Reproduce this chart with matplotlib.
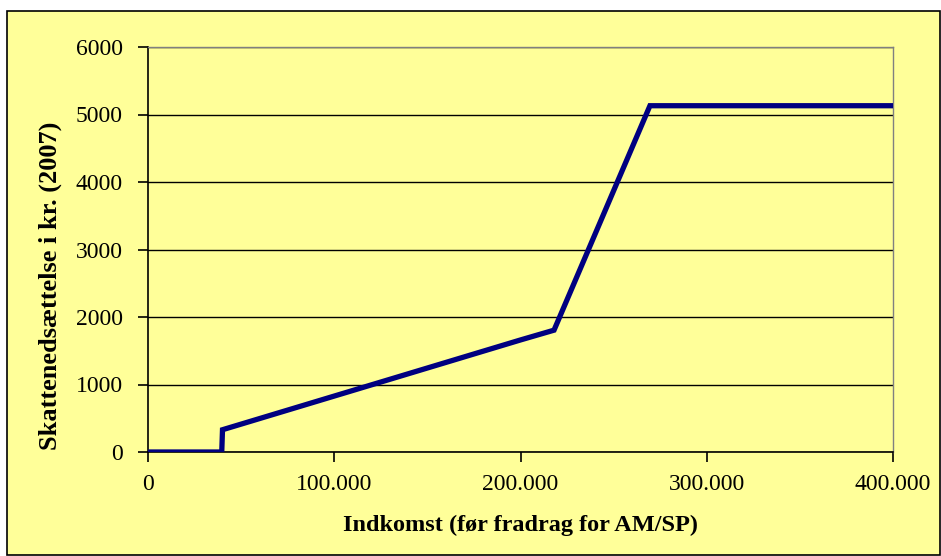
import matplotlib.pyplot as plt
from matplotlib.patches import Rectangle
from matplotlib.ticker import FuncFormatter

# Skattenedsættelse som funktion af indkomst (2007)
indkomst = [0, 39600, 40000, 200000, 218000, 269500, 400000]
nedsaettelse = [0, 0, 330, 1660, 1805, 5130, 5130]

x_ticks = [0, 100000, 200000, 300000, 400000]
y_ticks = [0, 1000, 2000, 3000, 4000, 5000, 6000]

bg = '#FFFF99'
navy = '#000080'

plt.rcParams['font.family'] = ['Liberation Serif', 'DejaVu Serif']

fig = plt.figure(figsize=(9.41, 5.56), dpi=100)
fig.patch.set_facecolor('white')
# gul ramme om hele diagrammet
fig.patches.append(Rectangle((7 / 941, 1 / 556), 933 / 941, 544 / 556,
                             transform=fig.transFigure, facecolor=bg,
                             edgecolor='black', linewidth=1.2, zorder=-5))

ax = fig.add_axes([148 / 941, 1 - 452 / 556, 745 / 941, 405 / 556])
ax.set_zorder(2)
ax.set_facecolor(bg)

ax.plot(indkomst, nedsaettelse, color=navy, linewidth=3.8,
        solid_joinstyle='miter', zorder=3)

ax.set_xlim(0, 400000)
ax.set_ylim(0, 6000)
ax.set_xticks(x_ticks)
ax.set_yticks(y_ticks)
ax.xaxis.set_major_formatter(FuncFormatter(lambda v, p: '0' if v == 0 else f'{int(v):,}'.replace(',', '.')))
ax.yaxis.set_major_formatter(FuncFormatter(lambda v, p: f'{int(v)}'))

ax.grid(True, axis='y', color='black', linewidth=1.0)
ax.set_axisbelow(True)

for side in ['top', 'right']:
    ax.spines[side].set_color('#808080')
    ax.spines[side].set_linewidth(1.0)
for side in ['left', 'bottom']:
    ax.spines[side].set_color('black')
    ax.spines[side].set_linewidth(1.2)

ax.tick_params(direction='out', length=7, width=1.2, labelsize=17,
               colors='black')
ax.tick_params(axis='x', pad=9)
ax.tick_params(axis='y', pad=11)

ax.set_xlabel('Indkomst (før fradrag for AM/SP)', fontsize=17.5,
              fontweight='bold', labelpad=14)
fig.text(50 / 941, 1 - 286 / 556, 'Skattenedsættelse i kr. (2007)',
         rotation=90, ha='center', va='center', fontsize=19,
         fontweight='bold')

fig.savefig('out.png', dpi=100, facecolor=fig.get_facecolor())
